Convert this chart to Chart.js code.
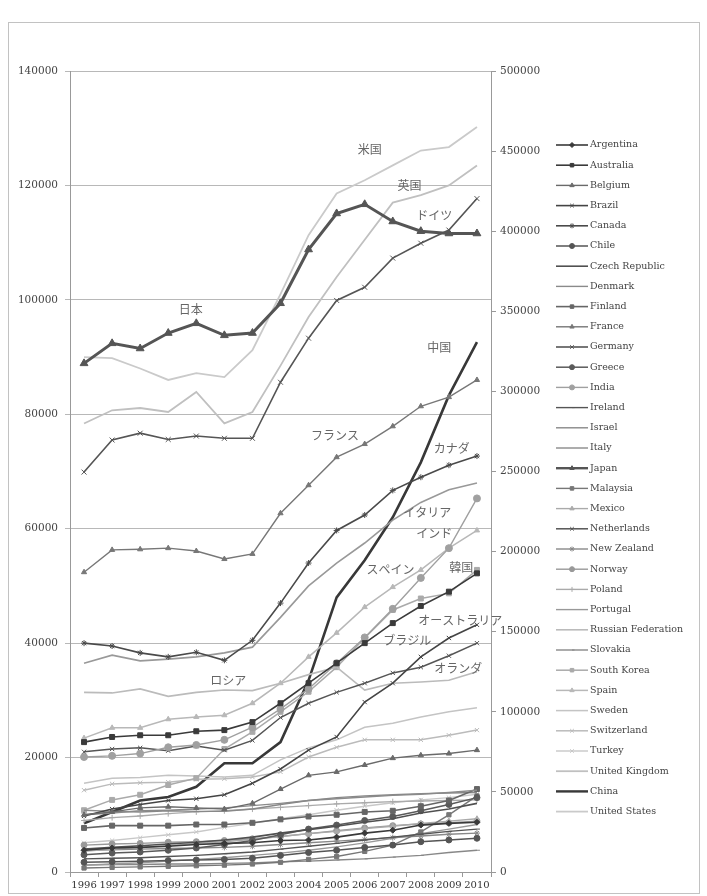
<!DOCTYPE html>
<html>
<head>
<meta charset="utf-8">
<script src="https://cdn.jsdelivr.net/npm/chart.js@4.4.1/dist/chart.umd.min.js"></script>
<style>
  html, body { margin: 0; padding: 0; background: #fff; }
  #wrap { width: 707px; height: 896px; }
</style>
</head>
<body>
<div id="wrap"><canvas id="c" width="707" height="896"></canvas></div>
<script>
const years = ['1996','1997','1998','1999','2000','2001','2002','2003','2004','2005','2006','2007','2008','2009','2010'];

const argentina   = [3800,4200,4300,4500,4800,5000,5100,5500,5600,6100,6800,7300,8200,8500,8700];
const australia   = [22700,23600,23900,23900,24600,24800,26200,29500,33000,36500,40000,43500,46500,49000,52200];
const belgium     = [10000,10500,11200,11400,11200,11000,12000,14500,16900,17500,18700,19900,20400,20700,21300];
const brazil      = [9800,11000,11800,12500,12800,13500,15500,18000,21300,23600,29700,33000,37600,40900,43200];
const canada      = [40000,39500,38300,37600,38400,37000,40500,47000,54000,59700,62400,66700,69000,71100,72700];
const chile       = [1700,1800,1900,2000,2100,2200,2400,2900,3400,3800,4300,4700,5300,5600,5900];
const czech       = [4000,4300,4600,4900,5200,5600,6100,6800,7400,8000,8700,9300,10300,11000,12000];
const denmark     = [10000,10300,10700,10800,11000,11200,11600,12000,12500,12800,13100,13400,13600,13900,14300];
const finland     = [7700,8100,8100,8100,8300,8300,8600,9200,9700,10000,10500,10700,11500,12500,14500];
const france      = [52400,56300,56400,56600,56100,54700,55600,62700,67600,72500,74800,77900,81400,83000,86000];
const germany     = [69900,75500,76700,75600,76200,75800,75800,85600,93300,99900,102200,107300,109900,112200,117700];
const greece      = [3000,3300,3500,3800,4200,4800,5500,6500,7500,8200,9000,9700,10700,11800,13000];
const india       = [20100,20300,20700,21800,22200,23100,25300,28500,32000,36500,41000,46000,51400,56600,65300];
const ireland     = [2300,2400,2500,2700,2900,3200,3500,4000,4500,5000,5600,6100,6600,7100,7500];
const israel      = [10800,10600,10500,10700,10600,10600,11000,11800,12500,13000,13300,13500,13700,13800,13900];
const italy       = [36500,37900,36900,37200,37600,38300,39300,44500,50000,54000,57500,61500,64600,66800,68000];
const japan       = [88900,92400,91500,94200,95900,93800,94200,99400,108800,115100,116700,113700,112000,111600,111600];
const malaysia    = [700,800,900,1000,1100,1200,1400,1700,2200,2700,3600,4700,7000,10000,13300];
const mexico      = [3600,4000,4300,4600,5000,5300,5700,6200,6700,7100,7600,8000,8500,8900,9300];
const netherlands = [21000,21500,21700,21200,22000,21300,23000,27000,29500,31400,33000,34800,35800,37800,40000];
const newZealand  = [3800,3900,4000,4100,4200,4300,4500,4800,5100,5400,5700,6000,6300,6600,6800];
const norway      = [4700,4900,5000,5200,5300,5500,5800,6200,6700,7200,7700,8100,8400,8600,8900];
const poland      = [9000,9500,9800,10200,10500,10700,11000,11300,11600,11900,12100,12300,12400,12500,12600];
const portugal    = [1200,1400,1600,1900,2200,2500,2900,3300,3800,4400,5100,5900,6700,7500,8300];
const russia      = [31400,31300,32000,30700,31400,31800,31700,33000,34500,35800,31800,33000,33200,33500,35000];
const slovakia    = [1200,1300,1300,1400,1400,1500,1600,1800,1900,2100,2300,2600,2900,3400,3800];
const southKorea  = [10800,12600,13500,15200,16400,21500,24500,28000,31500,35800,40900,45800,47800,48700,52800];
const spain       = [23400,25200,25200,26700,27100,27400,29500,33000,37600,41800,46300,49800,52800,56600,59700];
const sweden      = [15500,16400,16500,16900,16800,16600,16900,19600,21700,23100,25300,26000,27100,28000,28700];
const switzerland = [14300,15400,15600,15700,16200,16300,16600,17500,20100,21800,23100,23100,23100,23900,24800];
const turkey      = [5100,5500,6000,6500,7000,7800,8500,9300,10000,10800,11500,12100,12600,13000,13600];
const uk          = [78400,80700,81100,80400,83900,78400,80400,88500,97000,104000,110500,117000,118300,120000,123500];
const china       = [8500,10500,12500,13100,14900,19000,19000,22700,33500,48000,54500,62000,71600,83300,92600];
const us          = [90000,89800,88000,86000,87200,86500,91200,101000,111300,118600,120900,123500,126100,126700,130200];

// name, values, colour, line width, marker
const series = [
  ['Argentina', argentina, '#3a3a3a', 1.6, 'rectRot', 3],
  ['Australia', australia, '#3a3a3a', 1.6, 'rect', 3.5],
  ['Belgium', belgium, '#6a6a6a', 1.4, 'triangle', 3],
  ['Brazil', brazil, '#444', 1.6, 'crossRot', 3],
  ['Canada', canada, '#4a4a4a', 1.6, 'star', 3],
  ['Chile', chile, '#555', 1.5, 'circle', 3],
  ['Czech Republic', czech, '#505050', 1.6, false, 0],
  ['Denmark', denmark, '#8a8a8a', 1.4, false, 0],
  ['Finland', finland, '#666', 1.6, 'rect', 3.5],
  ['France', france, '#777', 1.4, 'triangle', 3],
  ['Germany', germany, '#555', 1.6, 'crossRot', 3.5],
  ['Greece', greece, '#5a5a5a', 1.5, 'circle', 3],
  ['India', india, '#a0a0a0', 1.4, 'circle', 3.5],
  ['Ireland', ireland, '#555', 1.4, 'dash', 3],
  ['Israel', israel, '#888', 1.4, false, 0],
  ['Italy', italy, '#999', 1.6, false, 0],
  ['Japan', japan, '#555', 3, 'triangle', 4.5],
  ['Malaysia', malaysia, '#777', 1.4, 'rect', 3],
  ['Mexico', mexico, '#aaa', 1.4, 'triangle', 3],
  ['Netherlands', netherlands, '#555', 1.5, 'crossRot', 3],
  ['New Zealand', newZealand, '#888', 1.4, 'star', 3],
  ['Norway', norway, '#999', 1.4, 'circle', 3],
  ['Poland', poland, '#aaa', 1.4, 'cross', 3],
  ['Portugal', portugal, '#999', 1.4, false, 0],
  ['Russian Federation', russia, '#bbb', 1.6, false, 0],
  ['Slovakia', slovakia, '#888', 1.4, 'dash', 3],
  ['South Korea', southKorea, '#aaa', 1.5, 'rect', 3.5],
  ['Spain', spain, '#b8b8b8', 1.5, 'triangle', 3],
  ['Sweden', sweden, '#c4c4c4', 1.5, false, 0],
  ['Switzerland', switzerland, '#bbb', 1.5, 'crossRot', 3],
  ['Turkey', turkey, '#c8c8c8', 1.4, 'crossRot', 3],
  ['United Kingdom', uk, '#c0c0c0', 1.8, false, 0],
  ['China', china, '#383838', 2.6, false, 0],
  ['United States', us, '#cacaca', 1.8, false, 0]
];

// Japanese call-outs, placed by category index and value
const noteText  = ['米国','英国','ドイツ','日本','中国','フランス','カナダ','イタリア','インド','スペイン','韓国','オーストラリア','ブラジル','オランダ','ロシア'];
const noteIndex = [10.18, 11.6, 12.48, 3.8, 12.66, 8.94, 13.1, 12.23, 12.48, 10.92, 13.44, 13.4, 11.52, 13.33, 5.14];
const noteValue = [126300, 120000, 114800, 98400, 91700, 76300, 74100, 62900, 59200, 52900, 53300, 44000, 40500, 35500, 33500];

const serif = 'DejaVu Serif';

const datasets = series.map(([label, data, color, width, marker, radius]) => ({
  label, data,
  yAxisID: 'y',
  borderColor: color,
  backgroundColor: color,
  pointBackgroundColor: color,
  pointBorderColor: color,
  borderWidth: width,
  pointStyle: marker,
  pointRadius: marker ? radius : 0,
  pointBorderWidth: 1,
  tension: 0,
  fill: false
}));

const extras = {
  id: 'extras',
  afterDraw(chart) {
    const ctx = chart.ctx;
    const xs = chart.scales.x, ys = chart.scales.y;
    ctx.save();
    // outer frame
    ctx.strokeStyle = '#c2c2c2';
    ctx.lineWidth = 1;
    ctx.strokeRect(8.5, 22.5, 691, 871);

    // call-outs
    ctx.font = '12px "Noto Sans CJK JP"';
    ctx.fillStyle = '#666';
    ctx.textAlign = 'center';
    ctx.textBaseline = 'middle';
    noteText.forEach((t, i) => {
      ctx.fillText(t, xs.getPixelForValue(noteIndex[i]), ys.getPixelForValue(noteValue[i]));
    });

    // legend: line sample with marker, then name
    const lx0 = 556, lx1 = 588, top = 145, step = 20.2;
    ctx.textAlign = 'left';
    ctx.font = '9.5px "' + serif + '"';
    chart.data.datasets.forEach((ds, i) => {
      const y = top + i * step;
      ctx.strokeStyle = ds.borderColor;
      ctx.fillStyle = ds.borderColor;
      ctx.lineWidth = Math.min(ds.borderWidth, 2.4);
      ctx.beginPath();
      ctx.moveTo(lx0, y);
      ctx.lineTo(lx1, y);
      ctx.stroke();
      if (ds.pointStyle) {
        ctx.lineWidth = 1;
        Chart.helpers.drawPoint(ctx, {pointStyle: ds.pointStyle, radius: 2.5, borderWidth: 1, rotation: 0}, (lx0 + lx1) / 2, y);
      }
      ctx.fillStyle = '#444';
      ctx.fillText(ds.label, lx1 + 2, y);
    });
    ctx.restore();
  }
};

const plain = v => String(v);

new Chart(document.getElementById('c'), {
  type: 'line',
  data: { labels: years, datasets },
  options: {
    responsive: false,
    animation: false,
    devicePixelRatio: 1,
    layout: { padding: { top: 71, left: 0, right: 0, bottom: 0 } },
    plugins: { legend: { display: false }, tooltip: { enabled: false } },
    scales: {
      x: {
        offset: true,
        grid: { offset: true, drawOnChartArea: false, tickLength: 5, color: '#999' },
        border: { color: '#999' },
        ticks: { font: { family: serif, size: 10 }, color: '#333', maxRotation: 0, autoSkip: false, padding: 2 },
        afterFit(s) { s.height = 24; }
      },
      y: {
        position: 'left',
        min: 0, max: 140000,
        ticks: { stepSize: 20000, font: { family: serif, size: 10.5 }, color: '#444', padding: 7, callback: plain },
        grid: { color: '#b8b8b8', tickLength: 5 },
        border: { color: '#999' },
        afterFit(s) { s.width = 70; }
      },
      y2: {
        position: 'right',
        min: 0, max: 500000,
        ticks: { stepSize: 50000, font: { family: serif, size: 10.5 }, color: '#444', padding: 4, callback: plain },
        grid: { drawOnChartArea: false, tickLength: 5, color: '#999' },
        border: { color: '#999' },
        afterFit(s) { s.width = 216; }
      }
    }
  },
  plugins: [extras]
});
</script>
</body>
</html>
